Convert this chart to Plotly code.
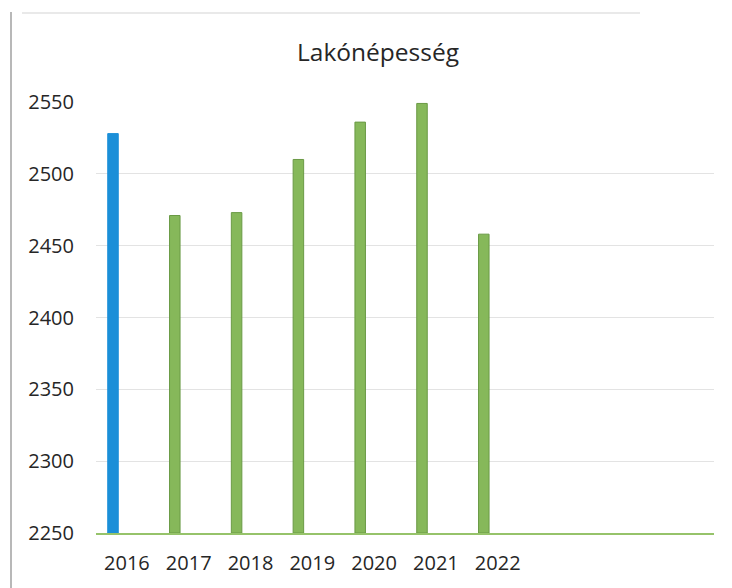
import plotly.graph_objects as go

title = "Lakónépesség"
years = ["2016", "2017", "2018", "2019", "2020", "2021", "2022"]
values = [2528, 2471, 2473, 2510, 2536, 2549, 2458]
n_categories = 10  # axis holds 10 category slots; only 7 filled
y_ticks = [2250, 2300, 2350, 2400, 2450, 2500, 2550]

BLUE = "#1b8fd8"
GREEN = "#86b85a"
GREEN_EDGE = "#6a9a45"
AXIS_GREEN = "#96c36a"

xpos = list(range(len(years)))
colors = [BLUE] + [GREEN] * (len(years) - 1)
edges = [BLUE] + [GREEN_EDGE] * (len(years) - 1)

fig = go.Figure()
fig.add_trace(go.Bar(
    x=xpos, y=[v - y_ticks[0] for v in values], base=y_ticks[0],
    width=0.17, offset=-0.31,
    marker=dict(color=colors, line=dict(color=edges, width=1)),
    hoverinfo="skip",
))

L, T, PW, PH = 88, 94, 618, 431
font = "Open Sans, Calibri, sans-serif"
fig.update_layout(
    width=732, height=588,
    margin=dict(l=L, r=732 - L - PW, t=T, b=588 - T - PH),
    paper_bgcolor="white", plot_bgcolor="white",
    showlegend=False,
    title=dict(text=title, x=0.5055, xanchor="center", y=0.91, yanchor="bottom",
               font=dict(family=font, size=24.5, color="#262626")),
    font=dict(family=font, color="#262626"),
    xaxis=dict(range=[-0.5, n_categories - 0.5], tickmode="array",
               tickvals=xpos, ticktext=years, showgrid=False, zeroline=False,
               showline=True, linecolor=AXIS_GREEN, linewidth=2,
               ticks="", tickfont=dict(size=20, family=font, color="#262626"),
               ticklabelstandoff=11),
    yaxis=dict(range=[y_ticks[0], y_ticks[-1]], tickmode="array", tickvals=y_ticks,
               showgrid=True, gridcolor="#e3e3e3", gridwidth=1, zeroline=False,
               showline=False, ticks="",
               tickfont=dict(size=20, family=font, color="#262626"),
               ticklabelstandoff=21),
    shapes=[
        dict(type="line", xref="paper", yref="paper",
             x0=(3 - L) / PW, x1=(3 - L) / PW, y0=-(588 - T - PH) / PH, y1=1 + (T - 4) / PH,
             line=dict(color="#a0a0a0", width=1.5)),
        dict(type="line", xref="paper", yref="paper",
             x0=(14 - L) / PW, x1=(632 - L) / PW, y0=1 + (T - 5) / PH, y1=1 + (T - 5) / PH,
             line=dict(color="#e2e2e2", width=1.5)),
    ],
)

fig.write_html("out.html")
